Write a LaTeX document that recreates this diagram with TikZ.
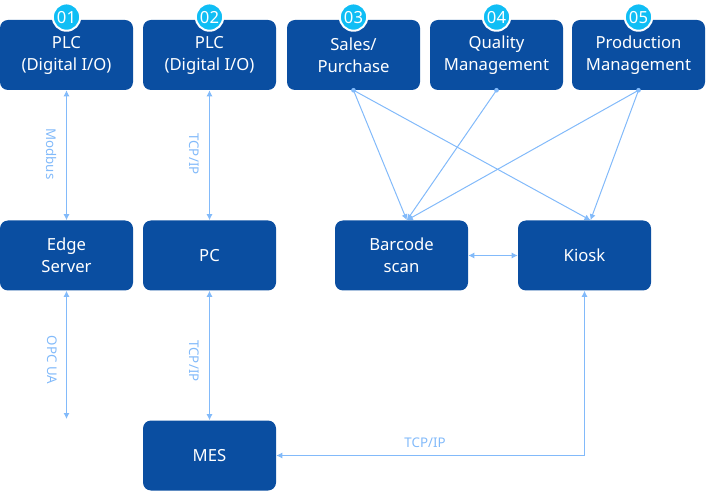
\documentclass[tikz,border=0pt]{standalone}
\usepackage{fontspec}
\setmainfont{Noto Sans}
\usetikzlibrary{arrows.meta}
\definecolor{boxblue}{HTML}{0A4EA1}
\definecolor{wire}{HTML}{82BAFA}
\definecolor{badge}{HTML}{10BEF5}

\begin{document}
\begin{tikzpicture}[x=0.75pt,y=-0.75pt,>={Latex[length=4.5pt,width=4.5pt]},
  sys/.style={fill=boxblue,rounded corners=6pt,minimum width=99.75pt,minimum height=52.5pt,align=center,text=white,font=\fontsize{12.5}{16.5}\selectfont,inner sep=0pt},
  num/.style={circle,fill=badge,draw=white,line width=1.5pt,minimum size=20.5pt,inner sep=0pt,text=white,font=\fontsize{12.5}{13}\selectfont\bfseries},
  link/.style={wire,line width=0.75pt},
  proto/.style={text=wire,font=\fontsize{10}{11}\selectfont},
  joint/.style={circle,fill=wire,inner sep=0pt,minimum size=3.5pt}]
  \useasboundingbox (0,0) rectangle (706,491);

  % ---------------- top row: field devices and business systems ----------------
  \node[sys] (plcA) at (66.5,55) {PLC\\(Digital I/O)};
  \node[sys] (plcB) at (209.5,55) {PLC\\(Digital I/O)};
  \node[sys] (sales) at (353.5,55) {Sales/\\Purchase};
  \node[sys] (quality) at (496.5,55) {Quality\\Management};
  \node[sys] (prod) at (638.5,55) {Production\\Management};
  \foreach \n/\t in {plcA/01,plcB/02,sales/03,quality/04,prod/05}
    \node[num] (\n-num) at ([yshift=2pt]\n.north) {\t};
  \foreach \n in {sales,quality,prod} \node[joint] (\n-dot) at (\n.south) {};

  % ---------------- middle row ----------------
  \node[sys] (edge) at (66.5,255.5) {Edge\\Server};
  \node[sys] (pc) at (209.5,255.5) {PC};
  \node[sys] (barcode) at (401.5,255.5) {Barcode\\scan};
  \node[sys] (kiosk) at (584.5,255.5) {Kiosk};
  \node[sys] (mes) at (209.5,455.5) {MES};
  \coordinate (bcin) at ([xshift=4pt]barcode.north);
  \coordinate (kin) at ([xshift=4.5pt]kiosk.north);
  \coordinate (opcend) at (66.5,419);

  % ---------------- links ----------------
  \draw[link,<->] (plcA) -- (edge);
  \draw[link,<->] (plcB) -- (pc);
  \draw[link,<->] (edge) -- (opcend);
  \draw[link,<->] (pc) -- (mes);
  \draw[link,<->] (barcode) -- (kiosk);
  \draw[link,<->] (kiosk.south) |- (mes.east);
  \foreach \a/\b in {sales/bcin,sales/kin,quality/bcin,prod/bcin,prod/kin}
    \draw[link,->] (\a-dot.center) -- (\b);

  \node[proto,rotate=-90] (modbus) at (51,154) {Modbus};
  \node[proto,rotate=-90] (tcpA) at (194,154) {TCP/IP};
  \node[proto,rotate=-90] (opcua) at (52,360) {OPC UA};
  \node[proto,rotate=-90] (tcpB) at (194,361) {TCP/IP};
  \node[proto] (tcpC) at (425,443) {TCP/IP};
\end{tikzpicture}
\end{document}
